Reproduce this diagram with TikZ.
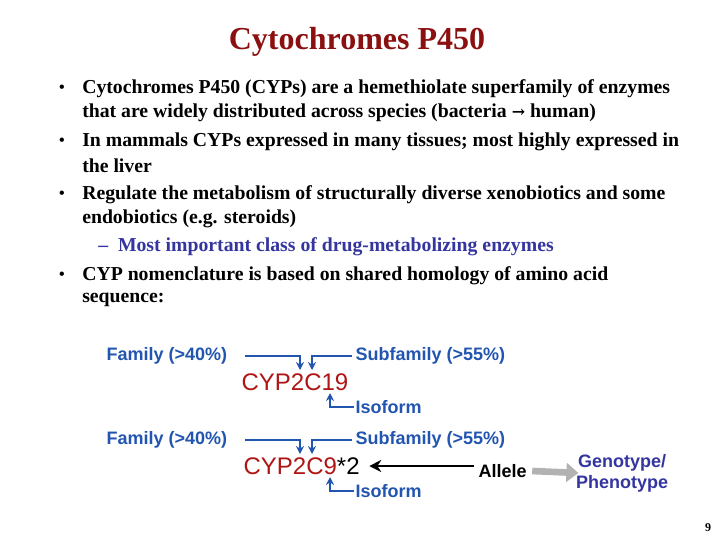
\documentclass[tikz,border=0pt]{standalone}
\usepackage{fontspec}
\setmainfont{Liberation Serif}
\newfontfamily\arial{Liberation Sans}
\usetikzlibrary{arrows.meta}
\definecolor{ttl}{HTML}{8B1010}
\definecolor{lbl}{HTML}{2255B0}
\definecolor{cyp}{HTML}{B01515}
\definecolor{gp}{HTML}{3535A0}
\begin{document}
\begin{tikzpicture}[x=0.75pt,y=-0.75pt,
  btxt/.style={anchor=west,inner sep=0,font=\bfseries\fontsize{14.8}{17}\selectfont},
  lab/.style={inner sep=1pt,text=lbl,font=\arial\bfseries\fontsize{13.5}{16}\selectfont},
  cypt/.style={inner sep=1pt,font=\arial\fontsize{18}{20}\selectfont},
  ln/.style={draw=lbl,line width=1.6pt,-{Stealth[length=6pt,width=6pt]}}]
\useasboundingbox (0,0) rectangle (720,540);
\node[inner sep=0,text=ttl,font=\bfseries\fontsize{24}{27}\selectfont] (title) at (357,42) {Cytochromes P450};
\foreach \y/\t in {89/{Cytochromes P450 (CYPs) are a hemethiolate superfamily of enzymes},
  113/{that are widely distributed across species (bacteria {\fontspec{DejaVu Serif}\fontsize{12}{14}\selectfont→} human)},
  142/{In mammals CYPs expressed in many tissues; most highly expressed in},
  166/{the liver},
  195/{Regulate the metabolism of structurally diverse xenobiotics and some},
  219/{endobiotics (e.g. steroids)},
  276/{CYP nomenclature is based on shared homology of amino acid},
  300/{sequence:}}
  {\node[btxt] at (82,\y) {\t};}
\foreach \y in {89,142,195,276} {\node[inner sep=0,font=\bfseries\fontsize{12}{14}\selectfont] at (62,\y) {•};}
\node[btxt,text=gp] (sub) at (98,247) {– \ Most important class of drug-metabolizing enzymes};
% row 1
\node[lab,anchor=west] (f1) at (105,356) {Family (>40\%)};
\node[lab,anchor=west] (s1) at (354,356) {Subfamily (>55\%)};
\node[cypt,text=cyp,anchor=west] (c1) at (240,382) {CYP2C19};
\node[lab,anchor=west] (i1) at (354,407) {Isoform};
\coordinate (fa1) at (300,370); \coordinate (sa1) at (312,370); \coordinate (ia1) at (330,393);
\draw[ln] (245,356) -| (fa1);
\draw[ln] (352,356) -| (sa1);
\draw[ln] (i1.west) -| (ia1);
% row 2
\node[lab,anchor=west] (f2) at (105,440) {Family (>40\%)};
\node[lab,anchor=west] (s2) at (354,440) {Subfamily (>55\%)};
\node[cypt,anchor=west] (c2) at (242,466) {\textcolor{cyp}{CYP2C9}*2};
\node[lab,anchor=west] (i2) at (354,491) {Isoform};
\coordinate (fa2) at (300,454); \coordinate (sa2) at (312,454); \coordinate (ia2) at (330,477);
\draw[ln] (245,440) -| (fa2);
\draw[ln] (352,440) -| (sa2);
\draw[ln] (i2.west) -| (ia2);
\node[lab,text=black,anchor=west] (al) at (477,471) {Allele};
\draw[line width=1.8pt,-{Stealth[length=9pt,width=9pt]}] (al.west |- c2.east) ++(-3,0) -- ([xshift=6pt]c2.east);
\node[lab,text=gp,align=center] (gp) at (622,473) {Genotype/\\Phenotype};
\draw[draw=gray!60,line width=5pt,-{Triangle[length=9pt,width=14pt]}] (al.east) ++(4,0) -- ([xshift=3pt]gp.west);
\node[inner sep=0,font=\bfseries\fontsize{9}{10}\selectfont] (pg) at (708,528) {9};
\end{tikzpicture}
\end{document}
